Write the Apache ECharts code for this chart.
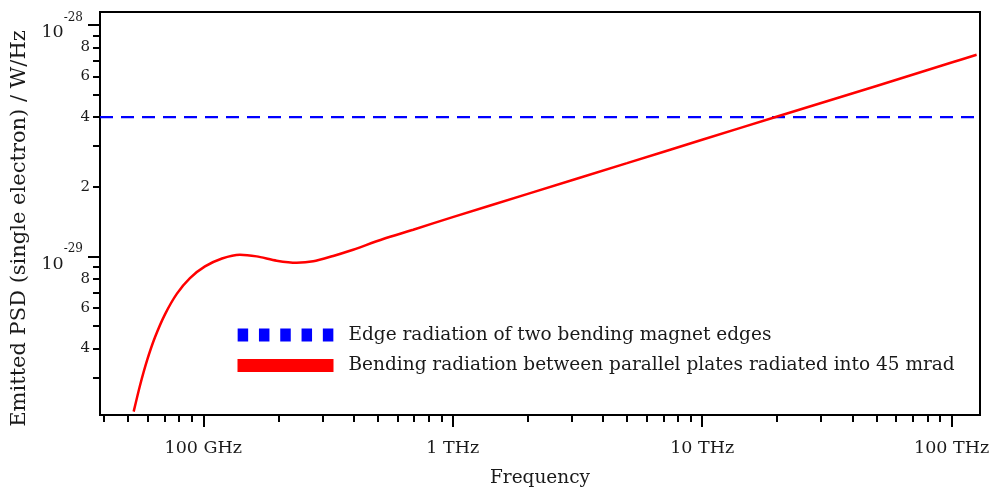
<!DOCTYPE html>
<html>
<head>
<meta charset="utf-8">
<script src="https://cdn.jsdelivr.net/npm/echarts@6/dist/echarts.min.js"></script>
<style>html,body{margin:0;padding:0;background:#fff}#c{width:1000px;height:493px}</style>
</head>
<body>
<div id="c"></div>
<script>
// ---- data (frequency in Hz, PSD in W/Hz) ----
const bendFreqHz = [5.26e10, 5.577e10, 5.948e10, 6.404e10, 7.023e10, 7.844e10, 8.845e10, 1.016e11, 1.189e11, 1.403e11, 1.637e11, 1.969e11, 2.368e11, 2.760e11, 3.319e11, 3.873e11, 5.265e11, 6.945e11, 1e12, 2e12, 5e12, 1e13, 2e13, 5e13, 1e14, 1.26e14];
const bendPSD    = [2.137e-30, 2.773e-30, 3.549e-30, 4.475e-30, 5.622e-30, 6.909e-30, 8.064e-30, 9.058e-30, 9.804e-30, 1.018e-29, 1.001e-29, 9.592e-30, 9.395e-30, 9.526e-30, 1.005e-29, 1.058e-29, 1.189e-29, 1.304e-29, 1.479e-29, 1.863e-29, 2.529e-29, 3.19e-29, 4.02e-29, 5.45e-29, 6.88e-29, 7.43e-29];
const edgeFreqHz = [3.855e10, 1.30e14];
const edgePSD    = [4.0e-29, 4.0e-29];
const seriesNames = ['Edge radiation of two bending magnet edges', 'Bending radiation between parallel plates radiated into 45 mrad'];

// axis ranges & ticks
const xRange = [3.855e10, 1.30e14];
const yRange = [2.067e-30, 1.137e-28];
const xMajorTicks = [1e11, 1e12, 1e13, 1e14];
const xMajorLabels = ['100 GHz', '1 THz', '10 THz', '100 THz'];
const xMinorTicks = [4e10,5e10,6e10,7e10,8e10,9e10, 2e11,3e11,4e11,5e11,6e11,7e11,8e11,9e11, 2e12,3e12,4e12,5e12,6e12,7e12,8e12,9e12, 2e13,3e13,4e13,5e13,6e13,7e13,8e13,9e13];
const yMajorTicks = [1e-29, 1e-28];
const yMajorExp = ['-29', '-28'];
const yMinorTicks = [3e-30,4e-30,5e-30,6e-30,7e-30,8e-30,9e-30, 2e-29,3e-29,4e-29,5e-29,6e-29,7e-29,8e-29,9e-29];
const yMinorLabelVals = [4e-30,6e-30,8e-30, 2e-29,4e-29,6e-29,8e-29];

const L = Math.log10;
const FONT = 'DejaVu Serif';
const TXT = '#1a1a1a';

const chart = echarts.init(document.getElementById('c'), null, {renderer: 'canvas'});

const pair = (xs, ys) => xs.map((x, i) => [L(x), L(ys[i])]);

const option = {
  animation: false,
  backgroundColor: '#fff',
  grid: {left: 100, right: 20, top: 12, bottom: 77, show: true, borderColor: '#000', borderWidth: 2, backgroundColor: 'transparent'},
  legend: {
    orient: 'vertical', left: 237.5, top: 325.5, padding: 0, itemWidth: 96, itemHeight: 13, itemGap: 11.5,
    textStyle: {fontFamily: FONT, fontSize: 18.5, color: TXT, padding: [0, 0, 0, 10]},
    itemStyle: {borderWidth: 0},
    data: [
      {name: seriesNames[0], icon: 'path://M0,0h10.5v13h-10.5zM21.3,0h10.5v13h-10.5zM42.6,0h10.5v13h-10.5zM63.9,0h10.5v13h-10.5zM85.2,0h10.5v13h-10.5z'},
      {name: seriesNames[1], icon: 'rect'}
    ]
  },
  xAxis: [
    {
      type: 'value', min: L(xRange[0]), max: L(xRange[1]), position: 'bottom',
      name: 'Frequency', nameLocation: 'middle', nameGap: 54,
      nameTextStyle: {fontFamily: FONT, fontSize: 18.5, color: TXT},
      axisLine: {show: true, onZero: false, lineStyle: {color: '#000', width: 2}},
      axisTick: {show: true, length: 12, inside: false, lineStyle: {color: '#000', width: 2}, customValues: xMajorTicks.map(L)},
      axisLabel: {show: true, margin: 24, fontFamily: FONT, fontSize: 17.5, color: TXT,
        customValues: xMajorTicks.map(L),
        formatter: v => { const i = xMajorTicks.findIndex(t => Math.abs(L(t) - v) < 1e-6); return i >= 0 ? xMajorLabels[i] : ''; }},
      splitLine: {show: false}
    },
    {
      type: 'value', min: L(xRange[0]), max: L(xRange[1]), position: 'bottom',
      axisLine: {show: false, onZero: false},
      axisTick: {show: true, length: 7, lineStyle: {color: '#000', width: 2}, customValues: xMinorTicks.map(L)},
      axisLabel: {show: false},
      splitLine: {show: false}
    }
  ],
  yAxis: [
    {
      type: 'value', min: L(yRange[0]), max: L(yRange[1]), position: 'left',
      name: 'Emitted PSD (single electron) / W/Hz', nameLocation: 'middle', nameGap: 69,
      nameTextStyle: {fontFamily: FONT, fontSize: 21, color: TXT, padding: [0, 30, 0, 0]},
      axisLine: {show: true, onZero: false, lineStyle: {color: '#000', width: 2}},
      axisTick: {show: true, length: 12, lineStyle: {color: '#000', width: 2}, customValues: yMajorTicks.map(L)},
      axisLabel: {show: true, margin: 17, customValues: yMajorTicks.map(L),
        formatter: v => { const i = yMajorTicks.findIndex(t => Math.abs(L(t) - v) < 1e-6); return i >= 0 ? '{b|10}{s|' + yMajorExp[i] + '}' : ''; },
        rich: {
          b: {fontFamily: FONT, fontSize: 17.5, color: TXT, padding: [15, 0, 0, 0]},
          s: {fontFamily: FONT, fontSize: 12, color: TXT, padding: [0, 0, 15, 0]}
        }},
      splitLine: {show: false}
    },
    {
      type: 'value', min: L(yRange[0]), max: L(yRange[1]), position: 'left',
      axisLine: {show: false, onZero: false},
      axisTick: {show: true, length: 7, lineStyle: {color: '#000', width: 2}, customValues: yMinorTicks.map(L)},
      axisLabel: {show: true, margin: 10, fontFamily: FONT, fontSize: 15, color: TXT,
        customValues: yMinorLabelVals.map(L),
        formatter: v => { const m = Math.pow(10, v - Math.floor(v + 1e-9)); return String(Math.round(m)); }},
      splitLine: {show: false}
    }
  ],
  series: [
    {
      name: seriesNames[0], type: 'line', xAxisIndex: 0, yAxisIndex: 0,
      data: pair(edgeFreqHz, edgePSD), showSymbol: false, symbol: 'none',
      color: '#0000ff',
      lineStyle: {color: '#0000ff', width: 2.2, type: [13, 8]},
      clip: true, z: 3
    },
    {
      name: seriesNames[1], type: 'line', xAxisIndex: 0, yAxisIndex: 0,
      data: pair(bendFreqHz, bendPSD), showSymbol: false, symbol: 'none', smooth: 0.25,
      color: '#ff0000',
      lineStyle: {color: '#ff0000', width: 2.5},
      clip: true, z: 4
    }
  ]
};
chart.setOption(option);
</script>
</body>
</html>
